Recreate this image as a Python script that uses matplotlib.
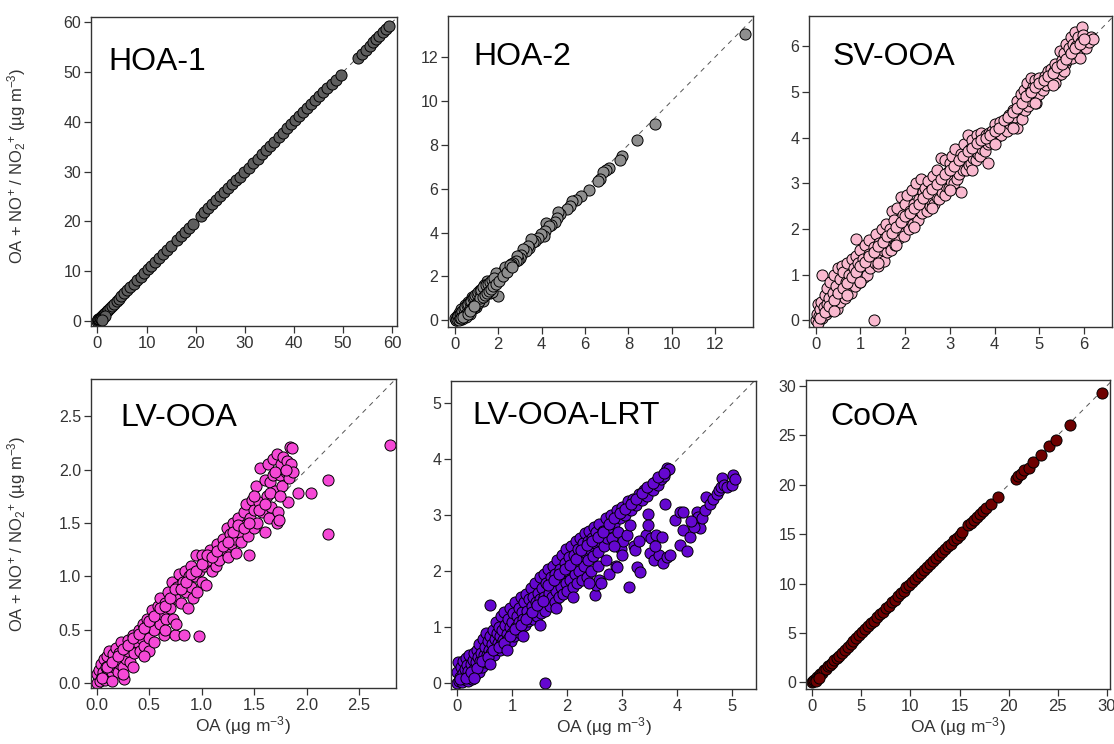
import matplotlib

matplotlib.use("Agg")
import matplotlib.pyplot as plt
from matplotlib.ticker import FormatStrFormatter

# ---- data (x = OA, y = OA + NO+/NO2+) ----
hoa1_x = [0.0, 0.1, 0.2, 0.3, 0.5, 0.7, 0.9, 1.1, 1.3, 1.6, 1.9, 2.2, 2.6, 3.0, 3.4, 3.9,
          4.4, 4.9, 5.5, 6.1, 6.7, 7.4, 8.1, 8.8, 9.5, 10.3, 11.0, 11.8, 12.6, 13.4, 14.2,
          15.0, 16.3, 17.1, 17.9, 18.7, 19.5, 21.0, 21.8, 22.6, 23.4, 24.2, 25.0, 25.8,
          26.6, 27.4, 28.2, 29.0, 29.9, 30.8, 31.7, 32.6, 33.5, 34.4, 35.2, 36.0, 36.9,
          37.8, 38.7, 39.5, 40.3, 41.1, 41.9, 42.7, 43.5, 44.3, 45.1, 45.9, 46.8, 47.7,
          48.5, 49.5, 53.0, 53.8, 54.6, 55.4, 56.1, 56.8, 57.4, 58.1, 58.8, 59.4,
          0.8, 1.2, 1.6, 1.0]
hoa1_y = [0.0, 0.1, 0.25, 0.3, 0.55, 0.7, 0.95, 1.1, 1.35, 1.6, 1.95, 2.2, 2.6, 3.05, 3.4, 3.9,
          4.45, 4.9, 5.5, 6.1, 6.75, 7.4, 8.1, 8.8, 9.5, 10.3, 11.05, 11.8, 12.6, 13.4, 14.2,
          15.0, 16.3, 17.1, 17.9, 18.7, 19.5, 21.0, 21.8, 22.6, 23.4, 24.2, 25.0, 25.8,
          26.6, 27.4, 28.2, 29.0, 29.9, 30.8, 31.7, 32.6, 33.5, 34.4, 35.2, 36.0, 36.9,
          37.8, 38.7, 39.5, 40.3, 41.1, 41.9, 42.7, 43.5, 44.3, 45.1, 45.9, 46.8, 47.7,
          48.5, 49.5, 52.8, 53.7, 54.5, 55.3, 56.0, 56.7, 57.3, 58.0, 58.7, 59.3,
          0.3, 0.6, 1.0, 0.2]

hoa2_x = [13.35, 9.2, 8.4, 7.7, 7.6, 7.1, 6.95, 6.85, 6.7, 6.6, 6.2, 5.8, 5.6, 5.4, 5.3,
          5.15, 4.85, 4.75, 4.7, 4.6, 4.45, 4.2, 4.35, 4.15, 4.1, 3.95, 3.85, 3.7, 3.6, 3.5,
          3.4, 3.35, 3.3, 3.15, 3.05, 3.0, 2.9, 2.85, 2.8, 2.7, 2.6, 2.5, 2.4, 2.35, 2.25,
          2.15, 2.1, 2.0, 1.95, 1.9, 2.0, 1.8, 1.75, 1.7, 1.6, 1.5, 1.45, 1.4, 1.3, 1.25,
          1.2, 1.1, 1.05, 1.0, 0.95, 0.9, 0.85, 0.8, 0.75, 0.7, 0.65, 0.6, 0.55, 0.5, 0.45,
          0.4, 0.35, 0.3, 0.25, 0.2, 0.15, 0.1, 0.05, 1.0, 0.8, 1.3, 1.5, 0.6, 0.7, 1.15,
          0.45, 0.3, 0.2, 1.6, 1.9, 2.3, 0.9, 0.5, 0.35, 0.1, 1.35, 1.7,
          0.02, 0.05, 0.08, 0.12, 0.15, 0.18, 0.22, 0.25, 0.28, 0.32, 0.35, 0.38, 0.42,
          0.45, 0.48, 0.52, 0.55, 0.58, 0.62, 0.65, 0.68, 0.72, 0.75, 0.78, 0.82, 0.85,
          0.88, 0.92, 0.95, 0.98, 1.02, 1.05, 1.08, 1.12, 1.15, 1.18, 1.22, 1.28, 1.32,
          1.38, 1.42, 1.48, 1.52, 1.58, 1.62, 1.68, 1.72, 1.78, 1.82, 1.88, 2.05, 2.2,
          2.4, 2.55, 2.65, 0.3, 0.4, 0.6, 0.7, 0.9]
hoa2_y = [13.05, 8.95, 8.2, 7.5, 7.3, 6.95, 6.85, 6.75, 6.45, 6.35, 5.95, 5.65, 5.5, 5.45, 5.2,
          5.05, 4.85, 4.95, 4.65, 4.5, 4.35, 4.45, 4.3, 4.05, 3.85, 3.95, 3.75, 3.6, 3.55, 3.7,
          3.3, 3.4, 3.15, 3.25, 3.0, 2.85, 2.75, 2.95, 2.7, 2.6, 2.55, 2.45, 2.35, 2.2, 2.3,
          2.1, 1.95, 2.05, 1.85, 1.75, 1.1, 1.7, 1.8, 1.6, 1.55, 1.5, 1.35, 1.45, 1.25, 1.1,
          1.2, 1.05, 0.95, 1.0, 0.85, 0.95, 0.75, 0.8, 0.65, 0.7, 0.55, 0.6, 0.5, 0.45, 0.4,
          0.35, 0.3, 0.25, 0.2, 0.15, 0.1, 0.05, 0.02, 0.6, 1.05, 0.9, 1.8, 0.85, 0.3, 1.4,
          0.7, 0.5, 0.35, 1.25, 2.15, 2.45, 0.55, 0.15, 0.05, 0.2, 1.6, 1.3,
          0.1, 0.0, 0.15, 0.05, 0.2, 0.02, 0.3, 0.1, 0.35, 0.15, 0.45, 0.2, 0.5,
          0.25, 0.6, 0.3, 0.7, 0.35, 0.75, 0.4, 0.85, 0.5, 0.9, 0.55, 1.0, 0.6,
          1.05, 0.7, 1.15, 0.75, 1.2, 0.8, 1.3, 0.9, 1.35, 1.0, 1.4, 1.05, 1.5,
          1.15, 1.6, 1.25, 1.65, 1.35, 1.75, 1.45, 1.85, 1.55, 1.95, 1.65, 1.8, 2.0,
          2.2, 2.5, 2.45, 0.1, 0.15, 0.3, 0.45, 0.65]

svooa_x = [0.0, 0.02, 0.05, 0.05, 0.08, 0.1, 0.12, 0.15, 0.15, 0.18, 0.2, 0.22, 0.25, 0.25,
           0.28, 0.3, 0.32, 0.35, 0.38, 0.4, 0.42, 0.45, 0.48, 0.5, 0.5,
           0.55, 0.55, 0.58, 0.6, 0.62, 0.65, 0.68, 0.7, 0.72, 0.75, 0.78, 0.8, 0.82, 0.85,
           0.88, 0.9, 0.9, 0.92, 0.95, 0.98, 1.0, 1.0,
           1.05, 1.08, 1.1, 1.12, 1.15, 1.18, 1.2, 1.22, 1.25, 1.3, 1.3, 1.32, 1.35, 1.38,
           1.4, 1.42, 1.45, 1.48, 1.5, 1.52, 1.55, 1.58, 1.6, 1.62, 1.65, 1.68, 1.7, 1.72,
           1.75, 1.78, 1.8, 1.82, 1.85, 1.88, 1.9, 1.92, 1.95, 1.98, 2.0, 2.02,
           2.05, 2.08, 2.1, 2.12, 2.15, 2.18, 2.2, 2.22, 2.25, 2.28, 2.3, 2.32, 2.35, 2.38,
           2.4, 2.42, 2.45, 2.48, 2.5, 2.52, 2.55, 2.58, 2.6, 2.62, 2.65, 2.68, 2.7, 2.72,
           2.75, 2.78, 2.8, 2.82, 2.85, 2.88, 2.9, 2.92, 2.95, 2.98, 3.0, 3.02,
           3.05, 3.08, 3.1, 3.12, 3.15, 3.18, 3.2, 3.25, 3.25, 3.28, 3.3, 3.32, 3.35, 3.38,
           3.4, 3.42, 3.45, 3.48, 3.5, 3.52, 3.55, 3.58, 3.6, 3.62, 3.65, 3.68, 3.7, 3.72,
           3.75, 3.78, 3.8, 3.85, 3.85, 3.88, 3.9, 3.95, 3.98, 4.0, 4.02,
           4.08, 4.12, 4.15, 4.2, 4.25, 4.28, 4.32, 4.35, 4.4, 4.42, 4.45, 4.5, 4.5, 4.55,
           4.58, 4.6, 4.62, 4.65, 4.68, 4.7, 4.72, 4.75, 4.78, 4.8, 4.82, 4.85, 4.88, 4.9,
           4.92, 4.95, 4.98, 5.0, 5.02,
           5.08, 5.12, 5.15, 5.2, 5.22, 5.25, 5.3, 5.32, 5.35, 5.4, 5.42, 5.45, 5.48, 5.5,
           5.52, 5.55, 5.58, 5.6, 5.62, 5.65, 5.68, 5.7, 5.72, 5.75, 5.78, 5.8, 5.82, 5.85,
           5.88, 5.9, 5.92, 5.95, 5.98, 6.0, 6.05, 6.1, 6.15, 6.2, 5.55, 5.35,
           0.1, 0.2, 0.3, 0.4, 0.5, 0.6, 0.7, 0.8, 0.9, 1.0, 1.1, 1.2, 1.3, 1.4, 1.5, 1.6,
           1.7, 1.8, 1.9, 2.0, 2.1, 2.2, 2.3, 2.4, 2.5, 2.6, 2.7, 2.8, 2.9, 3.0, 3.1, 3.2,
           3.3, 3.4, 3.5, 3.6, 3.7, 3.8, 3.9, 4.0, 4.1, 4.2, 4.3, 4.4, 4.5, 4.6, 4.7, 4.8,
           4.9, 5.0, 5.1, 5.2, 5.3, 5.4, 5.5, 5.6, 5.7, 5.8, 5.9, 6.0,
           0.4, 0.7, 1.0, 1.4, 1.8, 2.2, 2.6, 3.0, 3.5, 4.0, 4.4, 4.9, 5.3]
svooa_y = [0.0, 0.15, 0.35, -0.05, 0.1, 0.25, 0.4, 1.0, 0.05, 0.3, 0.55, 0.15, 0.7, 0.35,
           0.2, 0.5, 0.85, 0.3, 0.6, 1.0, 0.4, 0.75, 0.25, 1.15, 0.55,
           0.9, 0.4, 1.2, 0.65, 1.05, 0.5, 0.85, 1.25, 0.7, 1.0, 0.6, 1.35, 0.9, 1.15,
           0.75, 1.78, 1.4, 1.0, 1.25, 0.85, 1.55, 1.1,
           1.35, 0.95, 1.65, 1.2, 1.0, 1.45, 1.75, 1.15, 1.4, 0.0, 1.6, 1.25, 1.9, 1.45,
           1.2, 1.7, 1.4, 2.0, 1.55, 1.3, 1.8, 2.1, 1.5, 1.7, 2.0, 1.55, 2.4, 1.8,
           2.2, 1.65, 1.95, 2.45, 1.8, 2.1, 2.7, 1.95, 2.3, 1.85, 2.55, 2.1,
           2.75, 2.0, 2.4, 2.2, 2.85, 2.1, 2.55, 2.3, 3.0, 2.2, 2.65, 2.4, 3.1, 2.35,
           2.8, 2.55, 2.9, 2.4, 2.7, 3.05, 2.5, 2.85, 2.6, 3.15, 2.55, 2.9, 2.7, 3.3,
           2.65, 3.0, 3.55, 2.8, 3.1, 2.75, 3.5, 2.95, 3.25, 2.9, 3.45, 3.05,
           3.6, 3.0, 3.3, 3.75, 3.1, 3.45, 3.2, 2.8, 3.65, 3.3, 3.5, 3.85, 3.3, 3.6,
           4.05, 3.4, 3.75, 3.45, 3.95, 3.55, 3.8, 3.5, 4.05, 3.65, 3.9, 3.6, 4.1, 3.75,
           3.95, 3.7, 4.05, 3.45, 3.85, 4.1, 3.9, 4.15, 3.95, 4.3, 4.0,
           4.1, 4.35, 4.05, 4.25, 4.4, 4.15, 4.5, 4.3, 4.6, 4.25, 4.45, 4.8, 4.2, 4.55,
           4.95, 4.4, 4.7, 5.05, 4.6, 4.85, 5.2, 4.7, 5.0, 5.3, 4.8, 5.1, 4.9, 5.25,
           4.75, 5.0, 5.3, 4.95, 5.15,
           5.05, 5.35, 5.15, 5.45, 5.25, 5.5, 5.2, 5.45, 5.6, 5.35, 5.55, 5.9, 5.4, 5.7,
           5.5, 5.85, 5.6, 6.05, 5.7, 5.95, 5.8, 6.2, 5.75, 6.05, 5.85, 6.3, 6.0, 6.2,
           5.95, 5.75, 6.1, 6.42, 6.25, 6.0, 5.95, 6.1, 6.2, 6.15, 5.45, 5.2,
           0.05, 0.18, 0.32, 0.45, 0.6, 0.7, 0.82, 0.95, 1.05, 1.2, 1.28, 1.4, 1.5, 1.62,
           1.72, 1.85, 1.92, 2.05, 2.15, 2.28, 2.35, 2.45, 2.55, 2.68, 2.78, 2.88, 2.98,
           3.1, 3.2, 3.3, 3.38, 3.5, 3.6, 3.7, 3.78, 3.88, 3.95, 3.98, 4.05, 4.15, 4.22,
           4.38, 4.45, 4.55, 4.65, 4.75, 4.92, 5.0, 5.1, 5.2, 5.25, 5.35, 5.42, 5.55, 5.62,
           5.72, 5.85, 5.95, 6.05, 6.15,
           0.2, 0.55, 0.85, 1.25, 1.65, 2.05, 2.45, 2.85, 3.3, 3.85, 4.2, 4.75, 5.15]

lvooa_x = [0.0, 0.0, 0.02, 0.03, 0.04, 0.05, 0.06, 0.07, 0.08, 0.09, 0.1, 0.1, 0.11, 0.12,
           0.13, 0.14, 0.15, 0.16, 0.17, 0.18, 0.19, 0.2, 0.21, 0.22, 0.23, 0.24, 0.25,
           0.26, 0.27, 0.28, 0.3, 0.3,
           0.32, 0.33, 0.35, 0.36, 0.38, 0.4, 0.41, 0.42, 0.44, 0.45, 0.46, 0.48, 0.5, 0.5,
           0.52, 0.53, 0.55, 0.56, 0.58, 0.6, 0.6, 0.62, 0.64, 0.65, 0.66, 0.68, 0.7,
           0.72, 0.73, 0.75, 0.75, 0.76, 0.77, 0.78, 0.8, 0.82, 0.83, 0.84, 0.85, 0.87,
           0.88, 0.9, 0.9, 0.92, 0.94, 0.95, 0.96, 0.98, 0.98, 1.0, 1.0, 1.02, 1.04, 1.06,
           1.08, 1.1,
           1.12, 1.14, 1.15, 1.17, 1.2, 1.22, 1.24, 1.25, 1.27, 1.28, 1.3, 1.32, 1.33, 1.35,
           1.36, 1.38, 1.4, 1.41, 1.42, 1.44, 1.45, 1.46, 1.48, 1.5, 1.5,
           1.52, 1.53, 1.55, 1.56, 1.58, 1.6, 1.6, 1.62, 1.63, 1.64, 1.65, 1.66, 1.68, 1.68,
           1.7, 1.72, 1.72, 1.73, 1.74, 1.75, 1.76, 1.77, 1.78, 1.8, 1.81, 1.82, 1.83, 1.84,
           1.85, 1.86, 1.87,
           1.92, 2.04, 2.2, 2.2, 2.8,
           0.05, 0.1, 0.15, 0.2, 0.25, 0.3, 0.35, 0.4, 0.45, 0.5, 0.55, 0.6, 0.65, 0.7,
           0.75, 0.8, 0.85, 0.9, 0.95, 1.0, 1.05, 1.1, 1.15, 1.2, 1.25, 1.3, 1.35, 1.4,
           1.45, 1.5, 1.55, 1.6, 1.65, 1.7, 1.75, 1.8, 0.15, 0.25, 0.35, 0.45, 0.55, 0.65]
lvooa_y = [0.0, 0.08, 0.12, 0.02, 0.18, 0.06, 0.1, 0.22, 0.03, 0.15, 0.08, 0.25, 0.12, 0.3,
           0.05, 0.18, 0.1, 0.27, 0.15, 0.33, 0.2, 0.1, 0.28, 0.18, 0.38, 0.25, 0.15,
           0.04, 0.32, 0.22, 0.4, 0.3,
           0.2, 0.35, 0.45, 0.28, 0.38, 0.5, 0.3, 0.42, 0.55, 0.35, 0.48, 0.6, 0.42, 0.3,
           0.55, 0.68, 0.5, 0.62, 0.72, 0.55, 0.8, 0.65, 0.45, 0.75, 0.6, 0.85, 0.7,
           0.95, 0.6, 0.8, 0.45, 0.55, 0.9, 1.02, 0.75, 0.95, 0.45, 1.05, 0.85, 0.7,
           1.0, 0.9, 1.1, 0.8, 1.0, 1.2, 0.85, 0.44, 1.05, 0.95, 1.2, 1.1, 0.92, 1.15,
           1.25, 1.05,
           1.2, 1.1, 1.3, 1.15, 1.35, 1.25, 1.45, 1.18, 1.4, 1.3, 1.5, 1.35, 1.22, 1.55,
           1.42, 1.32, 1.6, 1.48, 1.68, 1.38, 1.2, 1.55, 1.72, 1.45, 1.62,
           1.85, 1.5, 1.7, 2.02, 1.6, 1.42, 1.9, 1.75, 2.05, 1.55, 1.88, 1.65, 1.95, 2.1,
           1.8, 1.5, 2.15, 1.6, 1.53, 1.95, 2.05, 1.85, 2.12, 1.98, 2.08, 1.7, 1.92, 2.21,
           2.05, 2.2, 1.98,
           1.78, 1.78, 1.9, 1.4, 2.23,
           0.05, 0.15, 0.2, 0.25, 0.32, 0.36, 0.42, 0.46, 0.52, 0.58, 0.63, 0.7, 0.72, 0.8,
           0.88, 0.88, 0.95, 1.02, 1.05, 1.12, 1.2, 1.18, 1.24, 1.28, 1.32, 1.42, 1.48, 1.45,
           1.5, 1.75, 1.62, 1.68, 1.78, 1.98, 1.75, 2.0, 0.02, 0.08, 0.15, 0.25, 0.38, 0.5]

lrt_x = [0.0, 0.0, 0.02, 0.03, 0.05, 0.06, 0.08, 0.1, 0.1, 0.12, 0.14, 0.15, 0.17, 0.18,
         0.2, 0.2, 0.22, 0.24, 0.25, 0.27, 0.28, 0.3, 0.3, 0.32, 0.34, 0.35, 0.37, 0.38,
         0.4, 0.4, 0.42, 0.44, 0.45, 0.47, 0.48, 0.5, 0.5,
         0.52, 0.54, 0.55, 0.57, 0.58, 0.6, 0.6, 0.62, 0.63, 0.65, 0.66, 0.68, 0.7, 0.7,
         0.72, 0.74, 0.75, 0.77, 0.78, 0.8, 0.8, 0.82, 0.84, 0.85, 0.87, 0.88, 0.9, 0.92,
         0.93, 0.95, 0.96, 0.98, 1.0, 1.0,
         1.02, 1.04, 1.05, 1.07, 1.08, 1.1, 1.12, 1.13, 1.15, 1.17, 1.18, 1.2, 1.22, 1.24,
         1.25, 1.27, 1.28, 1.3, 1.32, 1.34, 1.35, 1.37, 1.38, 1.4, 1.42, 1.43, 1.45, 1.46,
         1.48, 1.5, 1.5,
         1.52, 1.54, 1.55, 1.57, 1.58, 1.6, 1.6, 1.62, 1.63, 1.65, 1.67, 1.68, 1.7, 1.72,
         1.74, 1.75, 1.77, 1.78, 1.8, 1.82, 1.83, 1.85, 1.87, 1.88, 1.9, 1.92, 1.93, 1.95,
         1.97, 1.98, 2.0, 2.0,
         2.03, 2.05, 2.07, 2.08, 2.1, 2.12, 2.14, 2.15, 2.17, 2.18, 2.2, 2.22, 2.24, 2.25,
         2.27, 2.28, 2.3, 2.32, 2.33, 2.35, 2.37, 2.38, 2.4, 2.42, 2.43, 2.45, 2.47, 2.48,
         2.5, 2.5, 2.52, 2.53, 2.55, 2.57, 2.58, 2.6,
         2.62, 2.65, 2.67, 2.7, 2.72, 2.75, 2.76, 2.8, 2.82, 2.85, 2.88, 2.9, 2.9, 2.92,
         2.95, 2.98, 3.0, 3.02, 3.05, 3.08, 3.1, 3.12, 3.14, 3.15, 3.2, 3.22, 3.23, 3.25,
         3.26, 3.3, 3.32, 3.35, 3.4, 3.44, 3.45, 3.47, 3.47, 3.5, 3.5, 3.52, 3.55, 3.58,
         3.6, 3.62, 3.65, 3.66, 3.7, 3.72, 3.74, 3.75, 3.78, 3.8, 3.81, 3.82, 3.85, 3.87,
         3.96, 4.05, 4.1, 4.1, 4.05, 4.18, 4.23, 4.35, 4.38, 4.41, 4.3, 4.25, 4.45, 4.5,
         4.53, 4.6, 4.65, 4.72, 4.75, 4.8, 4.81, 4.85, 4.9, 5.0, 5.02, 5.05,
         0.05, 0.15, 0.25, 0.35, 0.45, 0.55, 0.65, 0.75, 0.85, 0.95, 1.05, 1.15, 1.25,
         1.35, 1.45, 1.55, 1.65, 1.75, 1.85, 1.95, 2.05, 2.15, 2.25, 2.35, 2.45, 2.55,
         2.65, 2.75, 2.85, 2.95, 3.05, 3.15, 3.25, 3.35, 3.45, 3.55, 3.65, 3.75,
         0.3, 0.6, 0.9, 1.2, 1.5, 1.8, 2.1, 2.4, 2.55, 2.7, 2.85, 3.0, 3.3, 3.6]
lrt_y = [0.0, 0.2, 0.38, 0.05, 0.12, 0.3, 0.02, 0.18, 0.4, 0.08, 0.25, 0.45, 0.12, 0.32,
         0.05, 0.22, 0.5, 0.15, 0.35, 0.08, 0.42, 0.25, 0.55, 0.15, 0.38, 0.6, 0.28, 0.48,
         0.2, 0.7, 0.4, 0.55, 0.3, 0.8, 0.5, 0.38, 0.65,
         0.9, 0.5, 0.75, 0.42, 0.6, 1.4, 0.85, 0.55, 0.7, 0.95, 0.5, 0.8, 1.1, 0.62,
         0.9, 0.72, 1.0, 0.6, 0.85, 1.2, 0.7, 0.95, 0.78, 1.28, 1.05, 0.68, 0.88, 1.15,
         0.8, 1.0, 1.35, 0.75, 1.1, 0.9,
         1.25, 0.85, 1.45, 1.0, 1.2, 0.92, 1.35, 1.1, 1.55, 1.0, 1.28, 1.15, 1.45, 1.05,
         1.6, 1.3, 1.12, 1.5, 1.2, 1.7, 1.38, 1.15, 1.55, 1.25, 1.8, 1.45, 1.2, 1.62,
         1.35, 1.9, 1.5,
         1.25, 1.7, 1.4, 1.95, 1.55, 0.0, 1.3, 1.8, 1.5, 2.05, 1.62, 1.38, 1.9, 1.55,
         2.1, 1.75, 1.45, 1.95, 1.65, 2.2, 1.85, 1.55, 2.05, 1.72, 2.3, 1.95, 1.6, 2.15,
         1.8, 2.4, 2.0, 1.65,
         2.25, 1.85, 2.45, 2.05, 1.72, 2.3, 1.95, 2.55, 2.15, 1.8, 2.4, 2.0, 2.6, 2.25,
         1.85, 2.5, 2.1, 2.68, 2.35, 1.9, 2.55, 2.2, 2.72, 2.4, 2.0, 2.6, 2.28, 2.8,
         1.58, 2.5, 1.75, 2.7, 2.35, 2.85, 1.85, 2.55,
         1.79, 2.72, 2.45, 2.95, 2.6, 1.95, 2.8, 3.0, 2.6, 2.85, 2.1, 3.1, 2.08, 2.7,
         2.95, 2.4, 3.15, 2.55, 3.0, 2.65, 3.25, 1.72, 2.83, 3.1, 3.3, 2.45, 2.38, 3.18,
         2.08, 3.38, 1.99, 3.28, 3.45, 2.65, 3.35, 3.02, 2.82, 3.5, 2.33, 2.6, 3.45, 2.2,
         3.6, 2.65, 3.55, 2.3, 3.65, 2.62, 2.15, 3.7, 3.21, 3.8, 3.84, 2.25, 3.83, 2.3,
         2.92, 3.06, 3.06, 2.74, 2.47, 2.37, 2.62, 3.06, 2.97, 2.77, 2.8, 2.9, 2.95, 3.1,
         3.33, 3.21, 3.3, 3.39, 3.45, 3.5, 3.67, 3.55, 3.5, 3.54, 3.72, 3.65,
         0.08, 0.1, 0.2, 0.28, 0.4, 0.48, 0.6, 0.65, 0.72, 0.85, 0.98, 1.05, 1.15,
         1.28, 1.4, 1.48, 1.75, 1.85, 1.95, 2.05, 2.12, 2.22, 2.38, 2.48, 2.55, 2.62,
         2.7, 2.85, 2.95, 3.05, 3.12, 3.2, 3.3, 3.4, 3.5, 3.58, 3.68, 3.76,
         0.1, 0.35, 0.6, 0.85, 1.05, 1.35, 1.55, 1.8, 2.1, 2.2, 2.45, 2.3, 2.55, 2.45]

coa_x = [0.0, 0.1, 0.2, 0.35, 0.5, 0.65, 0.8, 1.0, 1.2, 1.4, 1.6, 1.8, 2.0, 2.25, 2.5, 2.75,
         3.0, 3.3, 3.6, 3.9, 4.2, 4.5, 4.8, 5.1, 5.4, 5.7, 6.0, 6.3, 6.6, 6.9, 7.2, 7.5,
         7.8, 8.1, 8.4, 8.7, 9.0, 9.3, 9.6, 9.9, 10.2, 10.5, 10.8, 11.1, 11.4, 11.7, 12.0,
         12.3, 12.6, 12.9, 13.2, 13.5, 13.8, 14.1, 14.4, 14.7, 15.0, 15.3, 15.9, 16.2, 16.5,
         16.8, 17.1, 17.4, 17.7, 18.2, 18.9, 20.8, 21.0, 21.3, 21.6, 22.1, 22.5, 23.3, 24.1,
         24.8, 26.3, 29.5, 0.4, 0.7]
coa_y = [0.0, 0.1, 0.2, 0.35, 0.5, 0.6, 0.8, 0.95, 1.2, 1.35, 1.6, 1.8, 1.95, 2.25, 2.5, 2.7,
         3.0, 3.3, 3.55, 3.9, 4.2, 4.45, 4.8, 5.1, 5.35, 5.7, 6.0, 6.25, 6.6, 6.9, 7.15, 7.5,
         7.75, 8.1, 8.35, 8.7, 9.0, 9.25, 9.6, 9.85, 10.2, 10.45, 10.8, 11.05, 11.4, 11.65,
         12.0, 12.25, 12.6, 12.85, 13.15, 13.45, 13.8, 14.05, 14.4, 14.65, 14.95, 15.25,
         15.9, 16.1, 16.45, 16.75, 17.05, 17.35, 17.6, 18.0, 18.8, 20.6, 20.9, 21.1, 21.5,
         21.7, 22.3, 23.0, 23.9, 24.5, 26.0, 29.3, 0.15, 0.4]

labels = ["HOA-1", "HOA-2", "SV-OOA", "LV-OOA", "LV-OOA-LRT", "CoOA"]
colors = ["#5e5e5e", "#8e8e8e", "#f9b9cf", "#f548d6", "#6507d0", "#6e0000"]


def style_axis(ax, xlim, ylim, ticks, fmt=None):
    ax.set_xlim(*xlim)
    ax.set_ylim(*ylim)
    ax.set_xticks(ticks)
    ax.set_yticks(ticks)
    if fmt:
        ax.xaxis.set_major_formatter(FormatStrFormatter(fmt))
        ax.yaxis.set_major_formatter(FormatStrFormatter(fmt))
    for side in ["left", "bottom", "top", "right"]:
        ax.spines[side].set_color("#333333")
        ax.spines[side].set_linewidth(1.0)
    ax.tick_params(direction="out", length=5, width=0.9, color="#333333",
                   labelcolor="#333333", pad=2)
    ax.tick_params(axis="x", labelsize=12)
    ax.tick_params(axis="y", labelsize=11.5)


def main():
    plt.rcParams["font.family"] = ["Liberation Sans", "DejaVu Sans"]
    plt.rcParams["mathtext.fontset"] = "custom"
    plt.rcParams["mathtext.rm"] = "Liberation Sans"
    plt.rcParams["mathtext.it"] = "Liberation Sans:italic"
    plt.rcParams["mathtext.default"] = "regular"

    fig = plt.figure(figsize=(11.14, 7.44), dpi=100)

    rects = [
        (0.0817, 0.5618, 0.2747, 0.4153),
        (0.4022, 0.5605, 0.2738, 0.4180),
        (0.7262, 0.5605, 0.2720, 0.4180),
        (0.0814, 0.0753, 0.2741, 0.4153),
        (0.4048, 0.0739, 0.2738, 0.4140),
        (0.7235, 0.0739, 0.2729, 0.4153),
    ]
    data = [(hoa1_x, hoa1_y), (hoa2_x, hoa2_y), (svooa_x, svooa_y),
            (lvooa_x, lvooa_y), (lrt_x, lrt_y), (coa_x, coa_y)]
    limits = [
        ((-1.3, 61.0), (-1.07, 61.07), [0, 10, 20, 30, 40, 50, 60], None),
        ((-0.31, 13.74), (-0.3, 13.86), [0, 2, 4, 6, 8, 10, 12], None),
        ((-0.15, 6.62), (-0.144, 6.66), [0, 1, 2, 3, 4, 5, 6], None),
        ((-0.057, 2.853), (-0.047, 2.85), [0.0, 0.5, 1.0, 1.5, 2.0, 2.5], "%.1f"),
        ((-0.115, 5.43), (-0.10, 5.40), [0, 1, 2, 3, 4, 5], None),
        ((-0.64, 30.33), (-0.68, 30.6), [0, 5, 10, 15, 20, 25, 30], None),
    ]
    label_pos = [(0.056, 0.83), (0.082, 0.844), (0.077, 0.844),
                 (0.098, 0.847), (0.07, 0.859), (0.079, 0.854)]

    ylab = "OA + NO$^{+}$ / NO$_{2}$$^{+}$ (\u00b5g m$^{-3}$)"
    xlab = "OA (\u00b5g m$^{-3}$)"

    for i, rect in enumerate(rects):
        ax = fig.add_axes(rect)
        xlim, ylim, ticks, fmt = limits[i]
        xs, ys = data[i]
        top = max(xlim[1], ylim[1]) * 1.05
        ax.plot([0, top], [0, top], linestyle=(0, (5, 5)), color="#555555",
                linewidth=0.7, zorder=1)
        ax.scatter(xs, ys, s=64, c=colors[i], edgecolors="black",
                   linewidths=0.7, zorder=2)
        style_axis(ax, xlim, ylim, ticks, fmt)
        ax.text(label_pos[i][0], label_pos[i][1], labels[i], transform=ax.transAxes,
                fontsize=23, color="black", ha="left", va="baseline")
        if i in (0, 3):
            ax.set_ylabel(ylab, fontsize=12, color="#333333")
            ax.yaxis.set_label_coords(-0.205, 0.52 if i == 0 else 0.5)
        if i >= 3:
            ax.set_xlabel(xlab, fontsize=12.5, color="#333333", labelpad=1)

    fig.savefig("out.png", dpi=100)


if __name__ == "__main__":
    main()
